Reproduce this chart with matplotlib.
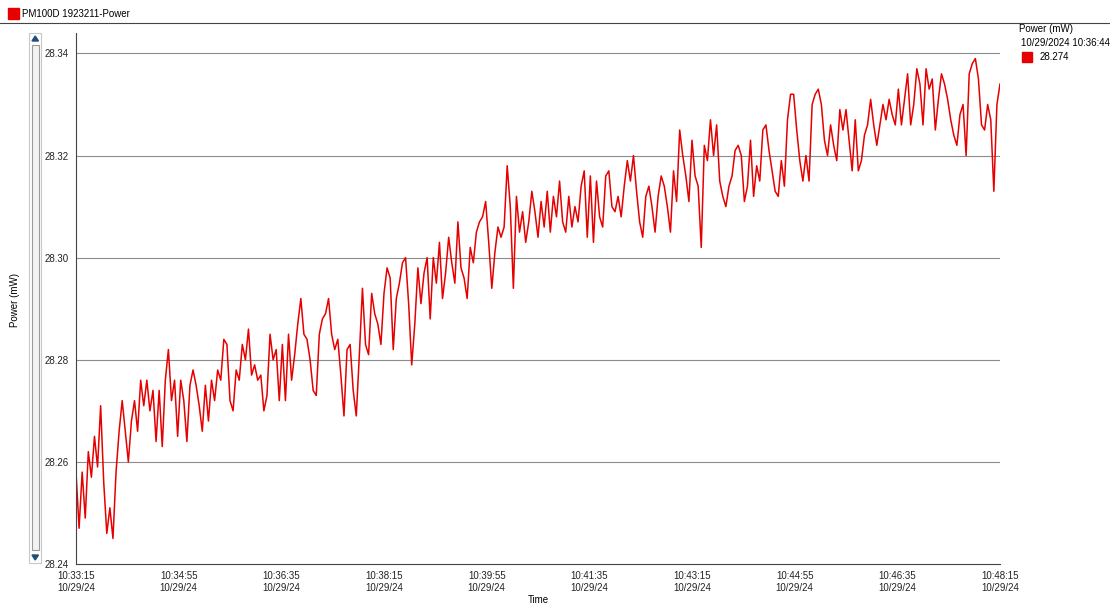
import numpy as np
import matplotlib
matplotlib.use("Agg")
import matplotlib.pyplot as plt
import matplotlib.dates as mdates
from matplotlib.patches import Rectangle, Polygon
from matplotlib.lines import Line2D

plt.rcParams["font.family"] = ["Liberation Sans", "DejaVu Sans"]

# Power readings (mW), one every 3 s from 10:33:15
power = [
    28.258, 28.247, 28.258, 28.249, 28.262, 28.257, 28.265, 28.259, 28.271, 28.256,
    28.246, 28.251, 28.245, 28.258, 28.266, 28.272, 28.266, 28.260, 28.268, 28.272,
    28.266, 28.276, 28.271, 28.276, 28.270, 28.274, 28.264, 28.274, 28.263, 28.276,
    28.282, 28.272, 28.276, 28.265, 28.276, 28.272, 28.264, 28.275, 28.278, 28.275,
    28.271, 28.266, 28.275, 28.268, 28.276, 28.272, 28.278, 28.276, 28.284, 28.283,
    28.272, 28.270, 28.278, 28.276, 28.283, 28.280, 28.286, 28.277, 28.279, 28.276,
    28.277, 28.270, 28.273, 28.285, 28.280, 28.282, 28.272, 28.283, 28.272, 28.285,
    28.276, 28.281, 28.287, 28.292, 28.285, 28.284, 28.280, 28.274, 28.273, 28.285,
    28.288, 28.289, 28.292, 28.285, 28.282, 28.284, 28.277, 28.269, 28.282, 28.283,
    28.274, 28.269, 28.281, 28.294, 28.283, 28.281, 28.293, 28.289, 28.287, 28.283,
    28.293, 28.298, 28.296, 28.282, 28.292, 28.295, 28.299, 28.300, 28.291, 28.279,
    28.287, 28.298, 28.291, 28.297, 28.300, 28.288, 28.300, 28.295, 28.303, 28.292,
    28.297, 28.304, 28.299, 28.295, 28.307, 28.298, 28.296, 28.292, 28.302, 28.299,
    28.305, 28.307, 28.308, 28.311, 28.303, 28.294, 28.301, 28.306, 28.304, 28.306,
    28.318, 28.310, 28.294, 28.312, 28.305, 28.309, 28.303, 28.307, 28.313, 28.309,
    28.304, 28.311, 28.306, 28.313, 28.305, 28.312, 28.308, 28.315, 28.307, 28.305,
    28.312, 28.306, 28.310, 28.307, 28.314, 28.317, 28.304, 28.316, 28.303, 28.315,
    28.308, 28.306, 28.316, 28.317, 28.310, 28.309, 28.312, 28.308, 28.314, 28.319,
    28.315, 28.320, 28.313, 28.307, 28.304, 28.312, 28.314, 28.310, 28.305, 28.312,
    28.316, 28.314, 28.310, 28.305, 28.317, 28.311, 28.325, 28.320, 28.316, 28.311,
    28.323, 28.316, 28.314, 28.302, 28.322, 28.319, 28.327, 28.320, 28.326, 28.315,
    28.312, 28.310, 28.314, 28.316, 28.321, 28.322, 28.320, 28.311, 28.314, 28.323,
    28.312, 28.318, 28.315, 28.325, 28.326, 28.321, 28.317, 28.313, 28.312, 28.319,
    28.314, 28.327, 28.332, 28.332, 28.325, 28.319, 28.315, 28.320, 28.315, 28.330,
    28.332, 28.333, 28.330, 28.323, 28.320, 28.326, 28.322, 28.319, 28.329, 28.325,
    28.329, 28.323, 28.317, 28.327, 28.317, 28.319, 28.324, 28.326, 28.331, 28.326,
    28.322, 28.326, 28.330, 28.327, 28.331, 28.328, 28.326, 28.333, 28.326, 28.331,
    28.336, 28.326, 28.330, 28.337, 28.334, 28.326, 28.337, 28.333, 28.335, 28.325,
    28.331, 28.336, 28.334, 28.331, 28.327, 28.324, 28.322, 28.328, 28.330, 28.320,
    28.336, 28.338, 28.339, 28.335, 28.326, 28.325, 28.330, 28.327, 28.313, 28.330,
    28.334,
]
start = np.datetime64("2024-10-29T10:33:15")
times = start + np.arange(len(power)) * np.timedelta64(3, "s")

y_ticks = [28.24, 28.26, 28.28, 28.30, 28.32, 28.34]
series_name = "PM100D 1923211-Power"
cursor_label = "10/29/2024 10:36:44"
cursor_value = "28.274"

red = "#e60000"
fs = 7

fig = plt.figure(figsize=(11.1, 6.05), dpi=100)
ax = fig.add_axes([76 / 1110, 1 - 564 / 605, 924 / 1110, 531 / 605])

ax.plot(times, power, color=red, lw=1.1)

ax.set_ylim(28.24, 28.344)
ax.set_xlim(times[0], times[-1])
ax.set_yticks(y_ticks)
ax.set_yticklabels([f"{v:.2f}" for v in y_ticks])
for v in y_ticks[1:]:
    ax.axhline(v, color="#8c8c8c", lw=0.8, zorder=0)

xt = start + np.arange(0, 901, 100) * np.timedelta64(1, "s")
ax.set_xticks(xt)
ax.xaxis.set_major_formatter(mdates.DateFormatter("%H:%M:%S\n%m/%d/%y"))

ax.tick_params(axis="both", labelsize=fs, length=0, colors="#222222")
ax.tick_params(axis="y", pad=5)
ax.tick_params(axis="x", pad=5)
for s in ["top", "right"]:
    ax.spines[s].set_visible(False)
for s in ["left", "bottom"]:
    ax.spines[s].set_color("#444444")
    ax.spines[s].set_linewidth(0.8)

ax.set_xlabel("Time", fontsize=fs, labelpad=1.5)
fig.text(15 / 1110, 1 - 300 / 605, "Power (mW)", rotation=90, fontsize=fs,
         ha="center", va="center")

# header: series name and separator line
fig.patches.append(Rectangle((8 / 1110, 1 - 19 / 605), 11 / 1110, 11 / 605,
                             transform=fig.transFigure, color=red))
fig.text(22 / 1110, 1 - 14 / 605, series_name, fontsize=fs, va="center")
fig.lines.append(Line2D([0, 1], [1 - 22.5 / 605] * 2, transform=fig.transFigure,
                        color="#444444", lw=0.8))

# cursor readout on the right
fig.text(1019 / 1110, 1 - 29 / 605, "Power (mW)", fontsize=fs, va="center")
fig.text(1021 / 1110, 1 - 43 / 605, cursor_label, fontsize=fs, va="center")
fig.patches.append(Rectangle((1022 / 1110, 1 - 62 / 605), 10 / 1110, 10 / 605,
                             transform=fig.transFigure, color=red))
fig.text(1040 / 1110, 1 - 57 / 605, cursor_value, fontsize=fs, va="center")

# zoom scrollbar on the left
fig.patches.append(Rectangle((29 / 1110, 1 - 563 / 605), 12 / 1110, 530 / 605,
                             transform=fig.transFigure, facecolor="white",
                             edgecolor="#c8c8c8", lw=0.8))
fig.patches.append(Rectangle((31.5 / 1110, 1 - 550 / 605), 7 / 1110, 505 / 605,
                             transform=fig.transFigure, facecolor="#f2f2f2",
                             edgecolor="#9a9a9a", lw=0.8))
fig.patches.append(Polygon([(32 / 1110, 1 - 41 / 605), (38.5 / 1110, 1 - 41 / 605),
                            (35.2 / 1110, 1 - 36 / 605)], closed=True,
                           transform=fig.transFigure, color="#1f4e79"))
fig.patches.append(Polygon([(32 / 1110, 1 - 555 / 605), (38.5 / 1110, 1 - 555 / 605),
                            (35.2 / 1110, 1 - 560 / 605)], closed=True,
                           transform=fig.transFigure, color="#1f4e79"))

fig.savefig("out.png", dpi=100)
